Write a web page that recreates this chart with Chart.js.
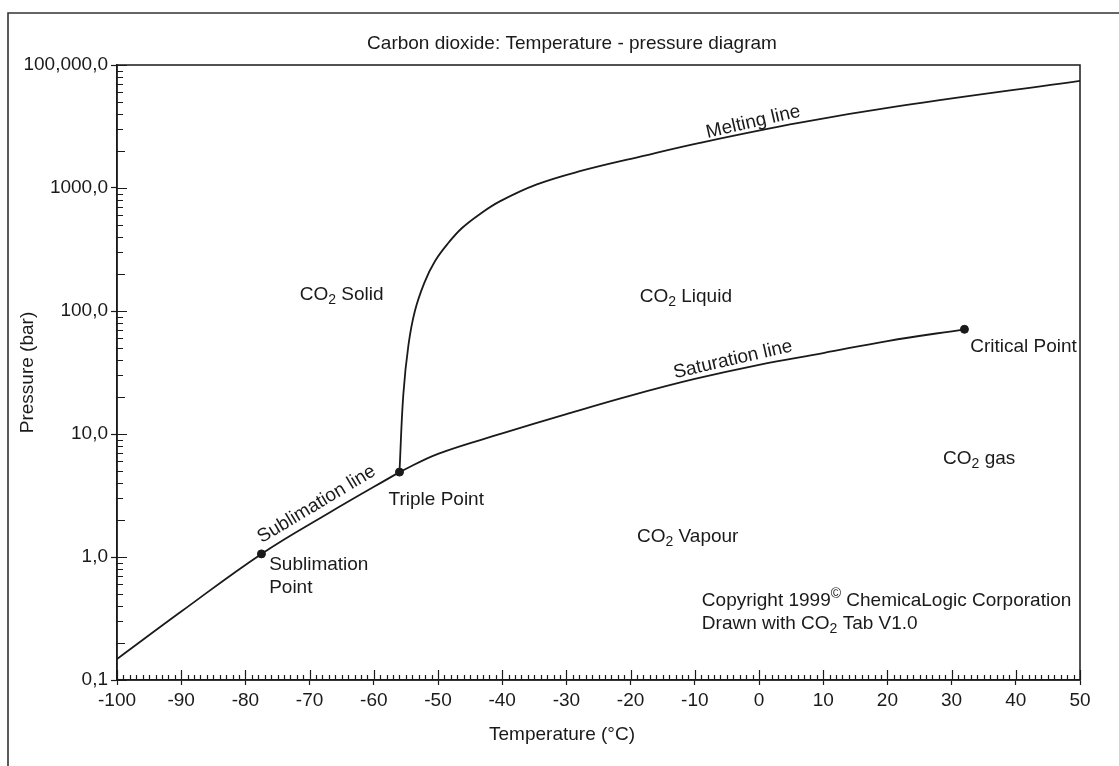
<!DOCTYPE html>
<html>
<head>
<meta charset="utf-8">
<script src="https://cdn.jsdelivr.net/npm/chart.js@4.4.1/dist/chart.umd.min.js"></script>
<style>
  body { margin: 0; background: #fff; }
  #wrap { width: 1119px; height: 766px; position: relative; }
</style>
</head>
<body>
<div id="wrap"><canvas id="phaseChart"></canvas></div>
<script>
// temperature in °C, pressure in bar
let sublimationT = [-100, -90, -77.5, -67, -56];
let sublimationP = [0.148, 0.36, 1.06, 2.28, 4.9];

let saturationT = [-56, -50, -40, -30, -20, -10, 0, 10, 20, 32];
let saturationP = [4.9, 6.9, 10.1, 14.5, 20.5, 28, 36.5, 45.5, 57, 71];

let meltingT = [-56, -55.4, -54.6, -53.6, -52.1, -50.5, -48.3, -46.3, -43.5, -40.3, -34.6, -27.9, -18.5, -9.2, 6.4, 22, 50];
let meltingP = [4.9, 21, 53, 100, 171, 253, 362, 471, 613, 782, 1070, 1370, 1800, 2330, 3400, 4650, 7430];

// sublimation point, triple point, critical point
let markedT = [-77.5, -56, 32];
let markedP = [1.06, 4.9, 71];

let tempTicks = [-100, -90, -80, -70, -60, -50, -40, -30, -20, -10, 0, 10, 20, 30, 40, 50];
let pressureTicks = [0.1, 1, 10, 100, 1000, 10000];
let pressureLabels = ['0,1', '1,0', '10,0', '100,0', '1000,0', '100,000,0'];

const FONT = "'Liberation Sans', Arial, Helvetica, sans-serif";
const INK = '#1a1a1a';

function toPoints(xs, ys) {
  return xs.map((x, i) => ({ x: x, y: ys[i] }));
}

function curve(xs, ys) {
  return {
    data: toPoints(xs, ys),
    showLine: true,
    borderColor: INK,
    borderWidth: 1.8,
    pointRadius: 0,
    tension: 0.4,
    fill: false
  };
}

// text pieces: plain, sub (subscript) or sup (superscript)
function richWidth(ctx, parts, size) {
  let w = 0;
  parts.forEach(p => {
    ctx.font = (p.sub || p.sup ? Math.round(size * 0.72) : size) + 'px ' + FONT;
    w += ctx.measureText(p.t).width;
  });
  return w;
}

function drawRich(ctx, parts, x, y, size, align) {
  let w = richWidth(ctx, parts, size);
  let cx = align === 'center' ? x - w / 2 : x;
  ctx.textAlign = 'left';
  ctx.textBaseline = 'middle';
  parts.forEach(p => {
    let dy = 0;
    if (p.sub) dy = size * 0.28;
    if (p.sup) dy = -size * 0.38;
    ctx.font = (p.sub || p.sup ? Math.round(size * 0.72) : size) + 'px ' + FONT;
    ctx.fillText(p.t, cx, y + dy);
    cx += ctx.measureText(p.t).width;
  });
}

// region names and point labels, placed in data units
let notes = [
  { x: -65, y: 136, align: 'center', parts: [{ t: 'CO' }, { t: '2', sub: true }, { t: ' Solid' }] },
  { x: -11.4, y: 131, align: 'center', parts: [{ t: 'CO' }, { t: '2', sub: true }, { t: ' Liquid' }] },
  { x: -11.1, y: 1.46, align: 'center', parts: [{ t: 'CO' }, { t: '2', sub: true }, { t: ' Vapour' }] },
  { x: 34.3, y: 6.3, align: 'center', parts: [{ t: 'CO' }, { t: '2', sub: true }, { t: ' gas' }] },
  { x: 32.9, y: 51.4, align: 'left', parts: [{ t: 'Critical Point' }] },
  { x: -57.7, y: 2.9, align: 'left', parts: [{ t: 'Triple Point' }] },
  { x: -76.3, y: 0.86, align: 'left', parts: [{ t: 'Sublimation' }] },
  { x: -76.3, y: 0.558, align: 'left', parts: [{ t: 'Point' }] },
  { x: -8.9, y: 0.438, align: 'left', parts: [{ t: 'Copyright 1999' }, { t: '©', sup: true }, { t: ' ChemicaLogic Corporation' }] },
  { x: -8.9, y: 0.284, align: 'left', parts: [{ t: 'Drawn with CO' }, { t: '2', sub: true }, { t: ' Tab V1.0' }] }
];

let lineNames = [
  { x: -0.9, y: 3440, angle: -13, text: 'Melting line' },
  { x: -4.05, y: 40.3, angle: -12.9, text: 'Saturation line' },
  { x: -68.9, y: 2.68, angle: -31, text: 'Sublimation line' }
];

const decorPlugin = {
  id: 'decor',
  beforeDraw(chart) {
    const ctx = chart.ctx;
    ctx.save();
    ctx.fillStyle = '#fff';
    ctx.fillRect(0, 0, chart.width, chart.height);
    // outer frame
    ctx.strokeStyle = '#333';
    ctx.lineWidth = 1.6;
    ctx.beginPath();
    ctx.moveTo(chart.width, 13);
    ctx.lineTo(8, 13);
    ctx.lineTo(8, chart.height);
    ctx.stroke();
    ctx.restore();
  },
  afterDatasetsDraw(chart) {
    const ctx = chart.ctx;
    const a = chart.chartArea;
    const xs = chart.scales.x, ys = chart.scales.y;
    ctx.save();
    ctx.strokeStyle = INK;
    ctx.lineWidth = 1.5;
    ctx.strokeRect(a.left, a.top, a.right - a.left, a.bottom - a.top);

    // inner tick marks
    ctx.lineWidth = 1.2;
    ctx.beginPath();
    for (let t = -100; t <= 50; t++) {
      const px = Math.round(xs.getPixelForValue(t)) + 0.5;
      const len = t % 10 === 0 ? 10 : 5;
      ctx.moveTo(px, a.bottom);
      ctx.lineTo(px, a.bottom - len);
    }
    for (let e = -1; e < 4; e++) {
      for (let m = 1; m <= 10; m++) {
        const v = m * Math.pow(10, e);
        const py = Math.round(ys.getPixelForValue(v)) + 0.5;
        const len = (m === 1 || m === 10) ? 10 : (m === 2 ? 8 : 6);
        ctx.moveTo(a.left, py);
        ctx.lineTo(a.left + len, py);
      }
    }
    ctx.stroke();

    ctx.fillStyle = INK;
    notes.forEach(n => {
      drawRich(ctx, n.parts, xs.getPixelForValue(n.x), ys.getPixelForValue(n.y), 19, n.align);
    });
    lineNames.forEach(n => {
      ctx.save();
      ctx.translate(xs.getPixelForValue(n.x), ys.getPixelForValue(n.y));
      ctx.rotate(n.angle * Math.PI / 180);
      ctx.font = '19px ' + FONT;
      ctx.textAlign = 'center';
      ctx.textBaseline = 'middle';
      ctx.fillText(n.text, 0, 0);
      ctx.restore();
    });

    // chart title and temperature axis title
    ctx.font = '19px ' + FONT;
    ctx.textAlign = 'center';
    ctx.textBaseline = 'middle';
    ctx.fillText('Carbon dioxide: Temperature - pressure diagram', 572, 44);
    ctx.fillText('Temperature (°C)', a.left + 445, a.bottom + 55);
    ctx.restore();
  }
};

const ctx = document.getElementById('phaseChart').getContext('2d');

new Chart(ctx, {
  type: 'scatter',
  data: {
    datasets: [
      curve(sublimationT, sublimationP),
      curve(saturationT, saturationP),
      curve(meltingT, meltingP),
      {
        data: toPoints(markedT, markedP),
        pointRadius: 4,
        pointBackgroundColor: INK,
        pointBorderColor: INK,
        showLine: false
      }
    ]
  },
  options: {
    responsive: true,
    maintainAspectRatio: false,
    animation: false,
    layout: { padding: { left: 10, top: 65, right: 39, bottom: 0 } },
    plugins: {
      legend: { display: false },
      tooltip: { enabled: false }
    },
    scales: {
      x: {
        type: 'linear',
        min: -100,
        max: 50,
        afterFit(scale) { scale.height = 86; },
        afterBuildTicks(scale) { scale.ticks = tempTicks.map(v => ({ value: v })); },
        border: { display: true, color: INK, width: 1.5 },
        grid: { drawOnChartArea: false, tickLength: 5, tickColor: INK, tickWidth: 1.2 },
        ticks: {
          color: INK,
          padding: 4,
          maxRotation: 0,
          autoSkip: false,
          font: { family: FONT, size: 19 },
          callback: v => String(v)
        }
      },
      y: {
        type: 'logarithmic',
        min: 0.1,
        max: 10000,
        afterFit(scale) { scale.width = 107; },
        afterBuildTicks(scale) { scale.ticks = pressureTicks.map(v => ({ value: v, major: true })); },
        border: { display: true, color: INK, width: 1.5 },
        grid: { drawOnChartArea: false, tickLength: 6, tickColor: INK, tickWidth: 1.2 },
        title: {
          display: true,
          text: 'Pressure (bar)',
          color: INK,
          padding: { top: 6, bottom: 0 },
          font: { family: FONT, size: 19 }
        },
        ticks: {
          color: INK,
          padding: 3,
          autoSkip: false,
          font: { family: FONT, size: 19 },
          callback: (v, i) => pressureLabels[pressureTicks.indexOf(v)] ?? ''
        }
      }
    }
  },
  plugins: [decorPlugin]
});
</script>
</body>
</html>
